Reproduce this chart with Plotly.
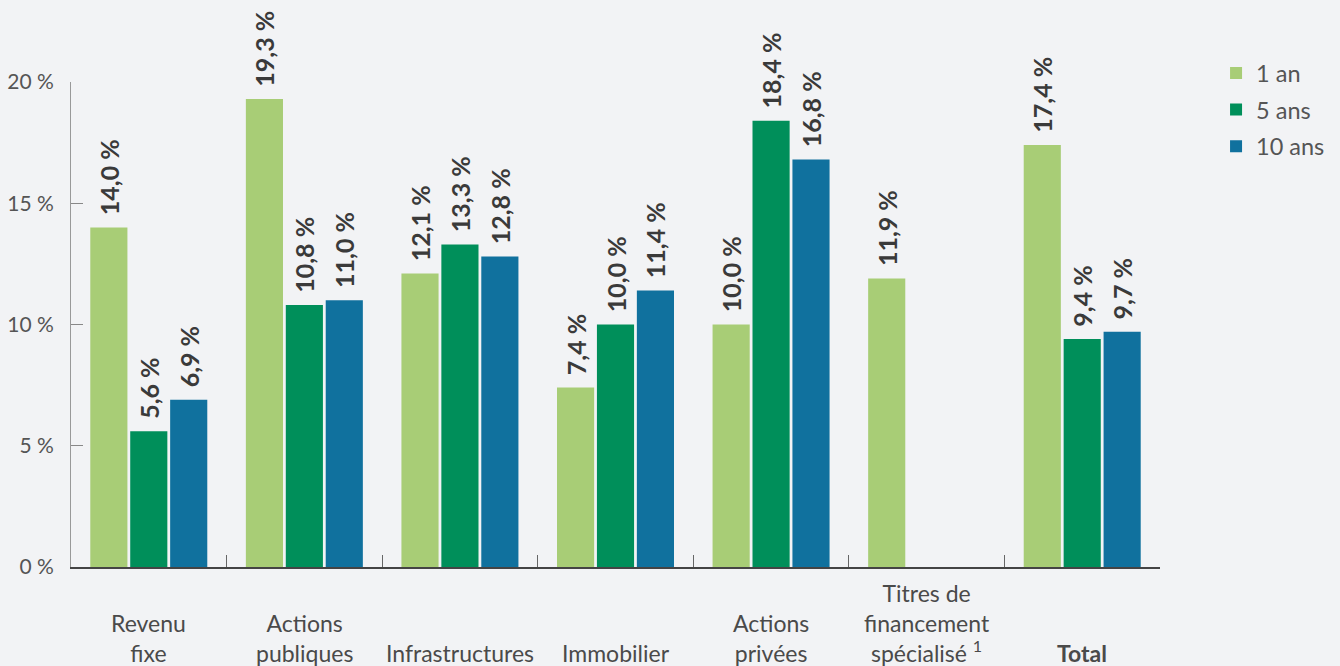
import plotly.graph_objects as go

categories = ["Revenu<br>fixe", "Actions<br>publiques", "Infrastructures", "Immobilier",
              "Actions<br>privées", "Titres de<br>financement<br>spécialisé <sup>1</sup>", "<b>Total</b>"]
cat_keys = ["Revenu fixe", "Actions publiques", "Infrastructures", "Immobilier",
            "Actions privées", "Titres de financement spécialisé", "Total"]
series_names = ["1 an", "5 ans", "10 ans"]
values_1an = [14.0, 19.3, 12.1, 7.4, 10.0, 11.9, 17.4]
values_5ans = [5.6, 10.8, 13.3, 10.0, 18.4, None, 9.4]
values_10ans = [6.9, 11.0, 12.8, 11.4, 16.8, None, 9.7]
y_ticks = [0, 5, 10, 15, 20]
y_ticklabels = ["0 %", "5 %", "10 %", "15 %", "20 %"]

colors = ["#A8CD76", "#008F5A", "#10719E"]
BG = "#F2F3F5"
FONT = "Lato"
PAD = '<span style="color:%s">-</span>' % BG

def fmt(v):
    return "" if v is None else PAD + f"{v:.1f}".replace(".", ",") + " %"

fig = go.Figure()
for i, (name, vals, col) in enumerate(zip(series_names, [values_1an, values_5ans, values_10ans], colors)):
    fig.add_trace(go.Bar(
        x=cat_keys, y=vals, name=name, marker=dict(color=col, line=dict(width=0)),
        text=[fmt(v) for v in vals], textposition="outside", textangle=-90,
        textfont=dict(family=FONT, size=25, color="#3a3a3a", weight="bold"),
        cliponaxis=False, constraintext="none", legendgroup=f"g{i}",
        hoverinfo="skip",
    ))

for key, lab in zip(cat_keys, categories):
    fig.add_annotation(x=key, y=-0.211, xref="x", yref="paper", text=lab,
                       showarrow=False, yanchor="bottom", xanchor="center",
                       font=dict(family=FONT, size=23, color="#4a4a4a"))

fig.update_layout(
    width=1340, height=666,
    paper_bgcolor=BG, plot_bgcolor=BG,
    margin=dict(l=71, r=180, t=82, b=99, autoexpand=False),
    barmode="group", bargap=0.23, bargroupgap=0.07,
    font=dict(family=FONT, size=21, color="#555"),
    legend=dict(x=0.9075, y=0.923, xref="container", yref="container",
                xanchor="left", yanchor="top",
                font=dict(family=FONT, size=23.5, color="#555"),
                itemwidth=30, traceorder="grouped", tracegroupgap=3),
    showlegend=True,
)
fig.update_xaxes(showline=True, linecolor="#444", linewidth=1.5, showticklabels=False,
                 ticks="inside", tickson="boundaries", ticklen=12, tickcolor="#666",
                 showgrid=False, zeroline=False, automargin=False)
fig.update_yaxes(range=[0, 20], tickvals=y_ticks, ticktext=y_ticklabels, showline=True,
                 linecolor="#999", linewidth=1, ticks="inside", ticklen=12, tickcolor="#888",
                 showgrid=False, zeroline=False, ticklabelstandoff=12, automargin=False,
                 tickfont=dict(family=FONT, size=21, color="#555"))

fig.write_html("out.html", config={"displayModeBar": False},
               post_script="document.body.style.margin='0';document.body.style.background='#F2F3F5';")
